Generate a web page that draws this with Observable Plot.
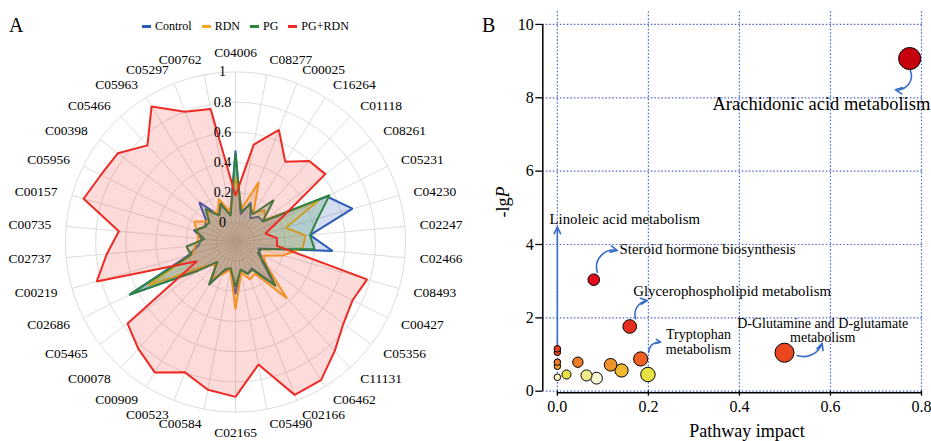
<!DOCTYPE html>
<html><head><meta charset="utf-8">
<script src="https://cdn.jsdelivr.net/npm/d3@7"></script>
<script src="https://cdn.jsdelivr.net/npm/@observablehq/plot@0.6"></script>
<style>
html,body{margin:0;padding:0;background:#fff;}
#fig{position:relative;width:931px;height:441px;overflow:hidden;font-family:"Liberation Serif","Times New Roman",serif;color:#000;}
.abs{position:absolute;white-space:nowrap;}
.leg{display:flex;align-items:center;font-size:12px;}
.leg span.sw{display:inline-block;width:9px;height:3px;margin-right:4px;}
.leg span.tx{margin-right:10px;}
</style></head><body>
<div id="fig"></div>
<script>
// ---------- Panel A data (radar) ----------
const compounds = ["C04006","C08277","C00025","C16264","C01118","C08261","C05231","C04230","C02247","C02466",
  "C08493","C00427","C05356","C11131","C06462","C02166","C05490","C02165","C00584","C00523",
  "C00909","C00078","C05465","C02686","C00219","C02737","C00735","C00157","C05956","C00398",
  "C05466","C05963","C05297","C00762"];
const control = [0.48,0.06,0.155,0.06,0.10,0.10,0.55,0.68,0.37,0.52,
  0.03,0.06,0.10,0.26,0.08,0.10,0.06,0.22,0.06,0.08,
  0.20,0.06,0.18,0.66,0.20,0.12,0.10,0.16,0.10,0.12,
  0.23,0.08,0.14,0.06];
const rdn = [0.30,0.10,0.30,0.10,0.16,0.12,0.49,0.22,0.34,0.32,
  0.20,0.08,0.13,0.38,0.12,0.14,0.08,0.32,0.06,0.10,
  0.16,0.07,0.15,0.52,0.17,0.14,0.12,0.14,0.18,0.10,
  0.15,0.10,0.18,0.08];
const pg = [0.46,0.08,0.14,0.09,0.25,0.10,0.57,0.44,0.37,0.40,
  0.05,0.04,0.12,0.27,0.09,0.10,0.06,0.17,0.05,0.07,
  0.21,0.05,0.20,0.66,0.18,0.20,0.08,0.15,0.10,0.09,
  0.17,0.08,0.15,0.05];
const pgRdn = [0.18,0.53,0.67,0.50,0.60,0.62,0.20,0.08,0.15,0.15,
  0.78,0.74,0.77,0.85,0.95,0.96,0.70,0.90,0.87,0.80,
  0.89,0.83,0.77,0.16,0.83,0.73,0.65,0.92,0.87,0.85,
  0.74,0.93,0.80,0.77];
const seriesNames = ["Control","RDN","PG","PG+RDN"];
const seriesColors = ["#2b5cb8","#f5a623","#2e8540","#ee2a24"];
const radialTicks = [0,0.2,0.4,0.6,0.8,1];

// ---------- Panel B data (pathway scatter) ----------
const impact   = [0.774,0.080,0.159,0.499,0.183,0.199,0.141,0.117,0.045,0.086,0.064,0.020,0,0,0,0,0];
const negLogP  = [9.07,3.04,1.765,1.05,0.88,0.455,0.565,0.72,0.79,0.355,0.43,0.455,0.38,0.68,0.79,1.06,1.155];
const xTicks = [0,0.2,0.4,0.6,0.8];
const yTicks = [0,2,4,6,8,10];
const annotations = [
  {text:"Arachidonic acid metabolism", x:0.58, y:7.84, kind:"big"},
  {text:"Linoleic acid metabolism", x:0.148, y:4.70, kind:"one"},
  {text:"Steroid hormone biosynthesis", x:0.33, y:3.86, kind:"one"},
  {text:"Glycerophospholipid metabolism", x:0.384, y:2.72, kind:"one"},
  {text:"Tryptophan\nmetabolism", x:0.31, y:1.34, kind:"two"},
  {text:"D-Glutamine and D-glutamate\nmetabolism", x:0.583, y:1.66, kind:"two"}
];
const arrows = [
  {x1:0.7756,y1:8.74,x2:0.7427,y2:8.22,bend:60},
  {x1:0,y1:1.18,x2:0,y2:4.48,bend:0},
  {x1:0.0878,y1:3.244,x2:0.1317,y2:3.836,bend:60},
  {x1:0.1719,y1:1.974,x2:0.1976,y2:2.473,bend:50},
  {x1:0.2011,y1:1.063,x2:0.2268,y2:1.336,bend:50},
  {x1:0.5269,y1:0.973,x2:0.5818,y2:1.309,bend:-45}
];

const fig = document.getElementById("fig");
function addDiv(html, css){const d=document.createElement("div");d.className="abs";d.innerHTML=html;Object.assign(d.style,css);fig.appendChild(d);return d;}

// ---------- Radar ----------
const n = compounds.length;
const rScale = d3.scaleLinear().domain([0,1]).range([19,170]);
const theta = i => i*2*Math.PI/n;
const X = (i,v) => rScale(v)*Math.sin(theta(i));
const Y = (i,v) => rScale(v)*Math.cos(theta(i));
const idx = d3.range(n);
const ringPts = radialTicks.flatMap(v => d3.range(0,360,2).map(a => ({v,a})));
const labR = 185;
const LX = i => labR*Math.sin(theta(i));
const LY = i => labR*Math.cos(theta(i));
const seriesVals = [control, rdn, pg, pgRdn];

const seriesMarks = seriesVals.map((vals,k) =>
  Plot.line(idx, {x: i => X(i, vals[i]), y: i => Y(i, vals[i]), curve: "linear-closed",
    fill: seriesColors[k], fillOpacity: k===3 ? 0.17 : 0.2, stroke: seriesColors[k], strokeWidth: 2, strokeLinejoin: "miter"})
);

const labelStyle = {fontFamily: "Liberation Serif", fontSize: 13.5, fill: "black"};
const radar = Plot.plot({
  width: 470, height: 441, margin: 0,
  x: {domain: [-235, 235], axis: null},
  y: {domain: [-199.5, 241.5], axis: null},
  style: {fontFamily: "Liberation Serif", background: "transparent", overflow: "visible"},
  marks: [
    Plot.line(ringPts, {x: d => rScale(d.v)*Math.sin(d.a*Math.PI/180), y: d => rScale(d.v)*Math.cos(d.a*Math.PI/180),
      z: "v", stroke: "#dcdcdc", strokeWidth: 1, curve: "linear-closed"}),
    Plot.link(idx, {x1: () => 0, y1: () => 0, x2: i => X(i,1), y2: i => Y(i,1), stroke: "#dcdcdc", strokeWidth: 1}),
    ...seriesMarks,
    Plot.text(radialTicks, {x: () => -13, y: v => rScale(v), text: v => String(v), fontFamily: "Liberation Serif", fontSize: 14, fill: "black"}),
    Plot.text(idx.filter(i => Math.abs(Math.sin(theta(i))) < 0.05 && Math.cos(theta(i)) > 0), {x: LX, y: LY, text: i => compounds[i], textAnchor: "middle", lineAnchor: "bottom", ...labelStyle}),
    Plot.text(idx.filter(i => Math.abs(Math.sin(theta(i))) < 0.05 && Math.cos(theta(i)) < 0), {x: LX, y: LY, text: i => compounds[i], textAnchor: "middle", lineAnchor: "top", ...labelStyle}),
    Plot.text(idx.filter(i => Math.sin(theta(i)) >= 0.05), {x: LX, y: LY, text: i => compounds[i], textAnchor: "start", lineAnchor: "middle", ...labelStyle}),
    Plot.text(idx.filter(i => Math.sin(theta(i)) <= -0.05), {x: LX, y: LY, text: i => compounds[i], textAnchor: "end", lineAnchor: "middle", ...labelStyle})
  ]
});
radar.style.position = "absolute"; radar.style.left = "0px"; radar.style.top = "0px";
fig.appendChild(radar);

// legend
addDiv(`<div class="leg">${seriesNames.map((s,k)=>`<span class="sw" style="background:${seriesColors[k]}"></span><span class="tx">${s}</span>`).join("")}</div>`,
  {left: "142px", top: "19px"});
addDiv("A", {left: "9px", top: "15px", fontSize: "20px", lineHeight: "20px"});
addDiv("B", {left: "482px", top: "15px", fontSize: "20px", lineHeight: "20px"});

// ---------- Scatter ----------
const points = impact.map((x,i) => ({x, y: negLogP[i]}));
const blue = "#3a6fc8";
const grid = "#4a62d2";
const bends = Array.from(new Set(arrows.map(d => d.bend)));
const arrowMarks = bends.map(b => Plot.arrow(arrows.filter(d => d.bend === b),
  {x1: "x1", y1: "y1", x2: "x2", y2: "y2", bend: b, stroke: blue, strokeWidth: 1.6, headLength: 7, headAngle: 50}));
const annStyle = {x: "x", y: "y", text: "text", fontFamily: "Liberation Serif", fill: "black"};
const scatter = Plot.plot({
  width: 451, height: 441, marginLeft: 62.3, marginRight: 10, marginTop: 10, marginBottom: 50.3,
  x: {domain: [-0.032, 0.8]},
  y: {domain: [0, 10.38]},
  r: {type: "sqrt", domain: [0, 0.8], range: [3.3, 11.2]},
  color: {type: "linear", domain: [0.35,0.43,0.46,0.57,0.7,0.8,0.9,1.1,2],
    range: ["#fbf8dc","#efec8a","#e6df35","#f0b52f","#ef9a2c","#ee7a26","#ee5a24","#e9401f","#e5271d"]},
  style: {fontFamily: "Liberation Serif", fontSize: "16px", background: "transparent", color: "black", overflow: "visible"},
  marks: [
    Plot.ruleY(yTicks, {x1: () => -0.032, x2: () => 0.805, stroke: grid, strokeWidth: 1.2, strokeDasharray: "1.5 2"}),
    Plot.ruleX(xTicks, {y1: () => 0, y2: () => 10.38, stroke: grid, strokeWidth: 1.2, strokeDasharray: "1.5 2"}),
    Plot.ruleX([-0.032], {y1: () => 0, y2: () => 10, stroke: "black", strokeWidth: 1.5}),
    Plot.ruleY([0], {x1: () => 0, x2: () => 0.8, dy: 1.5, stroke: "black", strokeWidth: 1.5}),
    Plot.axisY(yTicks, {tickSize: 7, tickPadding: 2, fontSize: 16, label: null, strokeWidth: 1.3}),
    Plot.axisX(xTicks, {tickSize: 5, tickPadding: 4, tickFormat: d3.format(".1f"), fontSize: 16, label: null, strokeWidth: 1.3}),
    ...arrowMarks,
    Plot.dot(points, {x: "x", y: "y", r: "x", fill: "y", stroke: "black", strokeWidth: 1}),
    Plot.text(annotations.filter(d => d.kind === "big"), {...annStyle, fontSize: 18.5}),
    Plot.text(annotations.filter(d => d.kind === "one"), {...annStyle, fontSize: 14.8}),
    Plot.text(annotations.filter(d => d.kind === "two"), {...annStyle, fontSize: 14, lineHeight: 1.04})
  ]
});
scatter.style.position = "absolute"; scatter.style.left = "480px"; scatter.style.top = "0px";
fig.appendChild(scatter);

addDiv("-lg<i>P</i>", {left: "503px", top: "202px", fontSize: "18px", transform: "translate(-50%,-50%) rotate(-90deg)"});
addDiv("Pathway impact", {left: "747px", top: "422px", fontSize: "18px", lineHeight: "18px", transform: "translateX(-50%)"});
</script>
</body></html>
